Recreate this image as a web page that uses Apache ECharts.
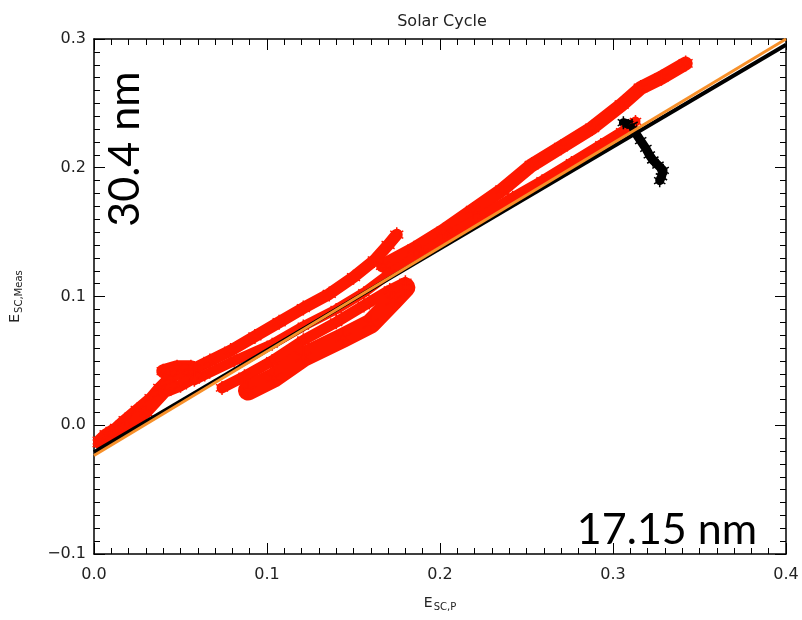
<!DOCTYPE html>
<html>
<head>
<meta charset="utf-8">
<script src="https://cdn.jsdelivr.net/npm/echarts@6/dist/echarts.min.js"></script>
<style>
  html, body { margin: 0; padding: 0; background: #fff; }
  #chart { width: 802px; height: 620px; }
</style>
</head>
<body>
<div id="chart"></div>
<script>
// axis ranges and tick labels
const xTicks = [0.0, 0.1, 0.2, 0.3, 0.4];
const yTicks = [-0.1, 0.0, 0.1, 0.2, 0.3];

// red trajectories (E_SC,P, E_SC,Meas)
const trackA = [
  [0.003, -0.012], [0.007, -0.007], [0.013, -0.002], [0.018, 0.004], [0.025, 0.012],
  [0.033, 0.021], [0.038, 0.029], [0.044, 0.037], [0.050, 0.041], [0.058, 0.044],
  [0.067, 0.050], [0.079, 0.058], [0.093, 0.069], [0.107, 0.080], [0.121, 0.091],
  [0.136, 0.102], [0.150, 0.115], [0.162, 0.128], [0.170, 0.140], [0.175, 0.148]
];
const trackALow = [
  [0.003, -0.014], [0.010, -0.009], [0.018, -0.002], [0.030, 0.010], [0.041, 0.026],
  [0.050, 0.031], [0.058, 0.037]
];
const trackBump = [[0.040, 0.042], [0.048, 0.045], [0.056, 0.045]];
const trackTop = [
  [0.167, 0.124], [0.185, 0.137], [0.202, 0.151], [0.219, 0.167],
  [0.236, 0.183], [0.253, 0.202], [0.270, 0.216], [0.288, 0.231], [0.305, 0.249],
  [0.316, 0.262], [0.328, 0.270], [0.342, 0.281]
];
const trackMid = [
  [0.058, 0.035], [0.064, 0.039], [0.081, 0.050], [0.103, 0.063], [0.121, 0.077],
  [0.140, 0.090], [0.156, 0.103], [0.171, 0.118], [0.190, 0.134], [0.207, 0.149],
  [0.225, 0.163], [0.242, 0.177], [0.259, 0.190], [0.276, 0.204], [0.293, 0.218],
  [0.305, 0.228], [0.313, 0.236]
];
const trackUnder = [
  [0.074, 0.029], [0.087, 0.038], [0.103, 0.050], [0.121, 0.066], [0.140, 0.080],
  [0.156, 0.093], [0.171, 0.105], [0.180, 0.111]
];
const trackWide = [
  [0.089, 0.027], [0.104, 0.037], [0.121, 0.053], [0.144, 0.068], [0.160, 0.079],
  [0.173, 0.097], [0.180, 0.107]
];
// black tail after the last cycle
const trackBlack = [
  [0.306, 0.235], [0.311, 0.233], [0.313, 0.227], [0.316, 0.221], [0.319, 0.215],
  [0.321, 0.210], [0.323, 0.206], [0.326, 0.202], [0.329, 0.198], [0.328, 0.193],
  [0.327, 0.190]
];

// fit lines
const fitBlack = [[0.0, -0.021], [0.4, 0.2955]];
const fitOrange = [[0.0, -0.0235], [0.4, 0.300]];

const RED = '#ff1800';
const STAR = 'path://M0,-10L0,10M-8.7,-5L8.7,5M-8.7,5L8.7,-5';
const labelFont = { fontFamily: 'DejaVu Sans', fontSize: 16, color: '#222' };

function track(data, color, width, size) {
  return {
    type: 'line',
    data: data,
    symbol: STAR,
    symbolSize: size,
    symbolKeepAspect: true,
    lineStyle: { color: color, width: width, cap: 'round', join: 'round' },
    itemStyle: { color: color, borderColor: color, borderWidth: 1.5 },
    silent: true,
    z: 2
  };
}

const fmt = (v) => {
  const s = Math.abs(v).toFixed(1);
  return v < -1e-9 ? '\u2212' + s : s;
};

function frameAxis(extra) {
  return Object.assign({
    type: 'value',
    axisLine: { onZero: false, lineStyle: { color: '#000', width: 1.5 } },
    axisTick: { inside: true, length: 11, lineStyle: { color: '#000' } },
    minorTick: { show: true, splitNumber: 10, length: 6, lineStyle: { color: '#000' } },
    splitLine: { show: false },
    minorSplitLine: { show: false }
  }, extra);
}

const nameRich = {
  a: { fontFamily: 'DejaVu Sans', fontSize: 14, color: '#222' },
  b: { fontFamily: 'DejaVu Sans', fontSize: 10, color: '#222', padding: [8, 0, 0, 1] }
};

const chart = echarts.init(document.getElementById('chart'));
chart.setOption({
  animation: false,
  title: {
    text: 'Solar Cycle',
    left: 437,
    top: 9,
    textAlign: 'center',
    textStyle: { fontFamily: 'DejaVu Sans', fontSize: 16, fontWeight: 'normal', color: '#222' }
  },
  grid: { left: 88, right: 16, top: 39, bottom: 66 },
  xAxis: [
    frameAxis({
      min: xTicks[0], max: xTicks[xTicks.length - 1], interval: 0.1, position: 'bottom',
      name: '{a|E}{b|SC,P}', nameLocation: 'middle', nameGap: 40,
      nameTextStyle: { rich: nameRich },
      axisLabel: Object.assign({ margin: 13, formatter: fmt }, labelFont)
    }),
    frameAxis({
      min: xTicks[0], max: xTicks[xTicks.length - 1], interval: 0.1, position: 'top',
      axisLabel: { show: false }
    })
  ],
  yAxis: [
    frameAxis({
      min: yTicks[0], max: yTicks[yTicks.length - 1], interval: 0.1, position: 'left',
      name: '{a|E}{b|SC,Meas}', nameLocation: 'middle', nameRotate: 90, nameGap: 70,
      nameTextStyle: { rich: nameRich },
      axisLabel: Object.assign({ margin: 8, formatter: fmt }, labelFont)
    }),
    frameAxis({
      min: yTicks[0], max: yTicks[yTicks.length - 1], interval: 0.1, position: 'right',
      axisLabel: { show: false }
    })
  ],
  graphic: [
    {
      type: 'text', x: 125, y: 149, rotation: Math.PI / 2,
      style: { text: '30.4 nm', font: '43px Lato', fill: '#000', textAlign: 'center', textVerticalAlign: 'middle' }
    },
    {
      type: 'text', x: 667, y: 530,
      style: { text: '17.15 nm', font: '43px Lato', fill: '#000', textAlign: 'center', textVerticalAlign: 'middle' }
    }
  ],
  series: [
    track(trackA, RED, 12, 15),
    track(trackALow, RED, 12, 15),
    track(trackBump, RED, 14, 15),
    track(trackTop, RED, 14, 16),
    track(trackMid, RED, 10, 13),
    track(trackUnder, RED, 11, 14),
    track(trackWide, RED, 20, 18),
    track(trackBlack, '#000', 9, 13),
    {
      type: 'line', data: fitBlack, symbol: 'none', silent: true, z: 3,
      lineStyle: { color: '#000', width: 4 }
    },
    {
      type: 'line', data: fitOrange, symbol: 'none', silent: true, z: 4,
      lineStyle: { color: '#f7902a', width: 3 }
    }
  ]
});
</script>
</body>
</html>
